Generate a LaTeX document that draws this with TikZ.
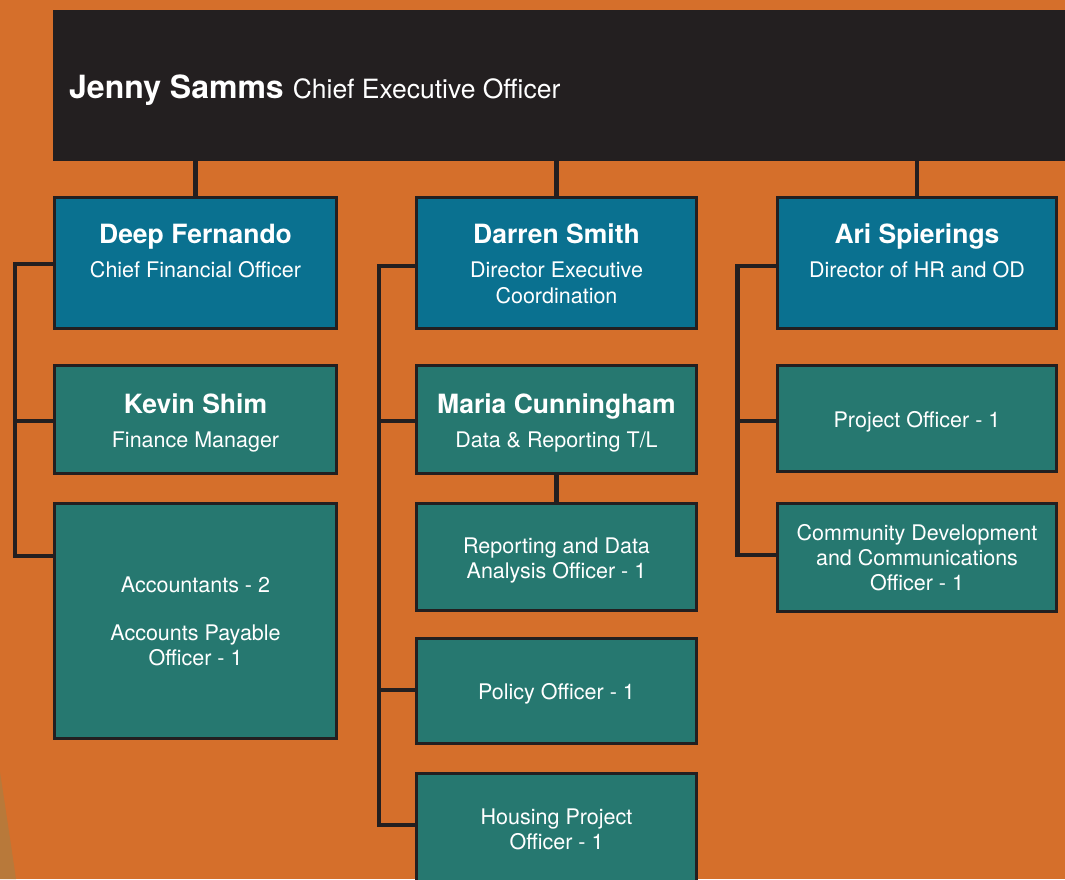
\documentclass[tikz,border=0pt]{standalone}
\usepackage{fontspec}
\setmainfont{TeX Gyre Heros}
\usetikzlibrary{calc}
\definecolor{bgorange}{HTML}{D56F2B}
\definecolor{ceoblack}{HTML}{231F20}
\definecolor{dirblue}{HTML}{0A7190}
\definecolor{staffteal}{HTML}{267870}
\definecolor{edgeline}{HTML}{231F20}
\definecolor{woodtan}{HTML}{B8793A}

\begin{document}
\begin{tikzpicture}[x=1pt,y=-1pt,
  box/.style={draw=edgeline, line width=3pt, anchor=north west, inner sep=0pt, outer sep=0pt},
  dirbox/.style={box, fill=dirblue},
  staffbox/.style={box, fill=staffteal},
  conn/.style={draw=edgeline, line width=4.3pt},
  nm/.style={text=white, font=\bfseries\fontsize{26.5}{30}\selectfont, anchor=base, inner sep=0pt},
  ttl/.style={text=white, font=\fontsize{21.5}{25}\selectfont, anchor=base, inner sep=0pt}]

\useasboundingbox (0,0) rectangle (1065,879);
\clip (0,0) rectangle (1065,879);

% page background and the wooden sliver in the lower left corner
\fill[bgorange] (0,0) rectangle (1065,879);
\fill[woodtan] (0,772) -- (5,805) -- (11,845) -- (16,879) -- (0,879) -- cycle;

% chief executive banner
\node[fill=ceoblack, minimum width=1030, minimum height=151, anchor=north west, inner sep=0pt] (ceo) at (53,10) {};
\node[anchor=base west, inner sep=0pt, text=white] (ceo-t) at (69,98.3)
  {{\bfseries\fontsize{32}{36}\selectfont Jenny Samms}\hspace{9pt}{\fontsize{26.5}{30}\selectfont Chief Executive Officer}};

% finance column
\node[dirbox, minimum width=282, minimum height=131] (deep) at (54.5,197.5) {};
\node[staffbox, minimum width=282, minimum height=108] (kevin) at (54.5,365.5) {};
\node[staffbox, minimum width=282, minimum height=235] (acc) at (54.5,503.5) {};

% executive coordination column
\node[dirbox, minimum width=280, minimum height=131] (darren) at (416.5,197.5) {};
\node[staffbox, minimum width=280, minimum height=108] (maria) at (416.5,365.5) {};
\node[staffbox, minimum width=280, minimum height=107] (report) at (416.5,503.5) {};
\node[staffbox, minimum width=280, minimum height=105] (policy) at (416.5,638.5) {};
\node[staffbox, minimum width=280, minimum height=120] (housing) at (416.5,773.5) {};

% HR column
\node[dirbox, minimum width=279, minimum height=131] (ari) at (777.5,197.5) {};
\node[staffbox, minimum width=279, minimum height=106] (project) at (777.5,365.5) {};
\node[staffbox, minimum width=279, minimum height=108] (community) at (777.5,503.5) {};

% labels
\node[nm]  (deep-n)  at (195.5,243.3) {Deep Fernando};
\node[ttl] (deep-r)  at (195.5,277.3) {Chief Financial Officer};
\node[nm]  (kevin-n) at (195.5,413) {Kevin Shim};
\node[ttl] (kevin-r) at (195.5,447.5) {Finance Manager};
\node[ttl] (acc-1)   at (195.5,592.5) {Accountants - 2};
\node[ttl] (acc-2)   at (195.5,640.5) {Accounts Payable};
\node[ttl] (acc-3)   at (195.5,665.5) {Officer - 1};

\node[nm]  (darren-n) at (556.5,243.3) {Darren Smith};
\node[ttl] (darren-r) at (556.5,277.3) {Director Executive};
\node[ttl] (darren-s) at (556.5,303) {Coordination};
\node[nm]  (maria-n)  at (556.5,413) {Maria Cunningham};
\node[ttl] (maria-r)  at (556.5,447.5) {Data \& Reporting T/L};
\node[ttl] (report-1) at (556.5,553.3) {Reporting and Data};
\node[ttl] (report-2) at (556.5,578.3) {Analysis Officer - 1};
\node[ttl] (policy-1) at (556.5,699.3) {Policy Officer - 1};
\node[ttl] (housing-1) at (556.5,824) {Housing Project};
\node[ttl] (housing-2) at (556.5,849) {Officer - 1};

\node[nm]  (ari-n)   at (917,243.3) {Ari Spierings};
\node[ttl] (ari-r)   at (917,277.3) {Director of HR and OD};
\node[ttl] (project-1) at (917,427.5) {Project Officer - 1};
\node[ttl] (comm-1)  at (917,540.3) {Community Development};
\node[ttl] (comm-2)  at (917,565.3) {and Communications};
\node[ttl] (comm-3)  at (917,590.3) {Officer - 1};

% reporting lines from the chief executive
\draw[conn] (ceo.south -| deep.north) -- (deep.north);
\draw[conn] (ceo.south -| darren.north) -- (darren.north);
\draw[conn] (ceo.south -| ari.north) -- (ari.north);
\draw[conn] (maria.south) -- (report.north);

% left-hand spines of each column
\coordinate (spine1) at (15,0);
\coordinate (spine2) at (379,0);
\coordinate (spine3) at (737.5,0);

\draw[conn] ($(deep.north west)+(0,66.5)$) -| ($(spine1 |- acc.north west)+(0,52.5)$) -- ($(acc.north west)+(0,52.5)$);
\draw[conn] ($(kevin.west)+(0,1.5)$) -- ($(spine1 |- kevin.west)+(0,1.5)$);

\draw[conn] ($(darren.north west)+(0,68.5)$) -| ($(spine2 |- housing.north west)+(0,51.5)$) -- ($(housing.north west)+(0,51.5)$);
\draw[conn] ($(maria.west)+(0,1.5)$) -- ($(spine2 |- maria.west)+(0,1.5)$);
\draw[conn] ($(policy.west)+(0,-1)$) -- ($(spine2 |- policy.west)+(0,-1)$);

\draw[conn] ($(ari.north west)+(0,68.5)$) -| ($(spine3 |- community.north west)+(0,51.5)$) -- ($(community.north west)+(0,51.5)$);
\draw[conn] ($(project.west)+(0,2.5)$) -- ($(spine3 |- project.west)+(0,2.5)$);

\end{tikzpicture}
\end{document}
